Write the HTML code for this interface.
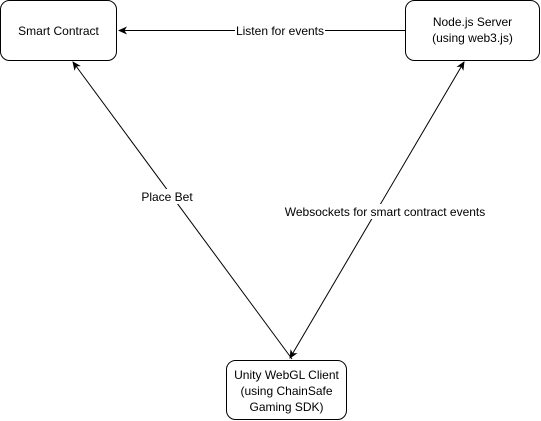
<!DOCTYPE html>
<html><head><style>
body{margin:0;background:#fff;width:541px;height:421px;overflow:hidden}
svg{display:block}
text{font-family:"Liberation Sans",Helvetica,sans-serif;font-size:12px;fill:#000}
</style></head><body>
<svg width="541" height="421" viewBox="0 0 541 421">
<defs>
<marker id="a" markerWidth="10" markerHeight="10" refX="8" refY="5" orient="auto" markerUnits="userSpaceOnUse">
<path d="M0,1 L9,5 L0,9 L2.5,5 Z" fill="#000"/>
</marker>
<marker id="b" markerWidth="10" markerHeight="10" refX="1" refY="5" orient="auto" markerUnits="userSpaceOnUse">
<path d="M9,1 L0,5 L9,9 L6.5,5 Z" fill="#000"/>
</marker>
</defs>
<rect x="0.5" y="0.5" width="116" height="60" rx="9" fill="#fff" stroke="#000"/>
<text x="58.5" y="35" text-anchor="middle">Smart Contract</text>
<rect x="405.5" y="0.5" width="134" height="60" rx="9" fill="#fff" stroke="#000"/>
<text x="472.5" y="26" text-anchor="middle">Node.js Server</text>
<text x="472.5" y="42" text-anchor="middle">(using web3.js)</text>
<rect x="226.5" y="360.5" width="120" height="59" rx="9" fill="#fff" stroke="#000"/>
<text x="286.5" y="379" text-anchor="middle">Unity WebGL Client</text>
<text x="286.5" y="395" text-anchor="middle">(using ChainSafe</text>
<text x="286.5" y="411" text-anchor="middle">Gaming SDK)</text>
<line x1="405" y1="30.5" x2="119" y2="30.5" stroke="#000" marker-end="url(#a)"/>
<rect x="235" y="23" width="90" height="15" fill="#fff"/>
<text x="280" y="35" text-anchor="middle">Listen for events</text>
<line x1="292" y1="359" x2="73" y2="62" stroke="#000" marker-end="url(#a)"/>
<rect x="135" y="189" width="65" height="15" fill="#fff"/>
<text x="167" y="201" text-anchor="middle">Place Bet</text>
<line x1="290" y1="358" x2="464" y2="62" stroke="#000" marker-start="url(#b)" marker-end="url(#a)"/>
<rect x="290" y="204" width="190" height="15" fill="#fff"/>
<text x="385" y="216" text-anchor="middle">Websockets for smart contract events</text>
</svg>
</body></html>
